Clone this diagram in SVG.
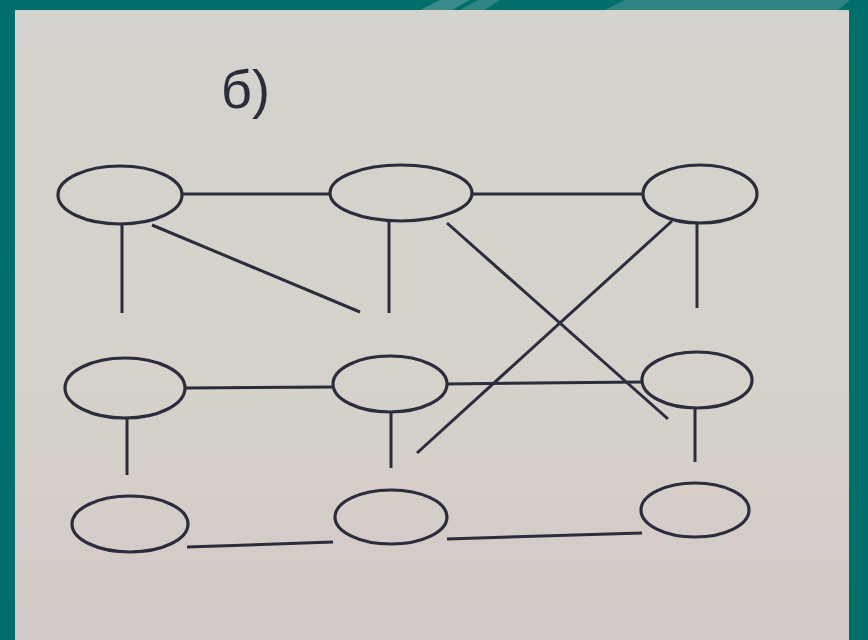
<svg xmlns="http://www.w3.org/2000/svg" width="868" height="640" viewBox="0 0 868 640">
<style>
.node{fill:none;stroke:#2b2d3c;stroke-width:3.2}
.edge{stroke:#2b2d3c;stroke-width:3;stroke-linecap:butt;fill:none}
.lbl{font-family:"Liberation Sans","DejaVu Sans",sans-serif;font-size:54px;fill:#2b2d3c}
</style>
<defs>
<linearGradient id="bg" x1="0" y1="0" x2="0" y2="1">
<stop offset="0" stop-color="#d5d3cd"/>
<stop offset="0.6" stop-color="#d6d1cb"/>
<stop offset="1" stop-color="#d3c9c6"/>
</linearGradient>
</defs>
<rect x="0" y="0" width="868" height="640" fill="#006f6b"/>
<polygon points="420,10 440,0 470,0 452,10" fill="#3a8c88"/>
<polygon points="460,10 478,0 500,0 484,10" fill="#2f8581"/>
<polygon points="605,10 625,0 850,0 838,10" fill="#2e8480"/>
<rect x="15" y="10" width="834" height="630" fill="url(#bg)"/>
<text class="lbl" x="221" y="108">б)</text>
<g id="connectors">
<line class="edge" x1="182" y1="194" x2="329" y2="194"/>
<line class="edge" x1="472" y1="194" x2="643" y2="194"/>
<line class="edge" x1="122" y1="224" x2="122" y2="313"/>
<line class="edge" x1="152" y1="225" x2="360" y2="312"/>
<line class="edge" x1="389" y1="221" x2="389" y2="313"/>
<line class="edge" x1="447" y1="223" x2="668" y2="419"/>
<line class="edge" x1="672" y1="221" x2="417" y2="453"/>
<line class="edge" x1="697" y1="222" x2="697" y2="308"/>
<line class="edge" x1="186" y1="388" x2="333" y2="387"/>
<line class="edge" x1="446" y1="384" x2="642" y2="382"/>
<line class="edge" x1="127" y1="418" x2="127" y2="475"/>
<line class="edge" x1="391" y1="412" x2="391" y2="468"/>
<line class="edge" x1="695" y1="408" x2="695" y2="462"/>
<line class="edge" x1="187" y1="547" x2="333" y2="542"/>
<line class="edge" x1="447" y1="539" x2="642" y2="533"/>
</g>
<g id="n1"><ellipse class="node" cx="120" cy="195" rx="62" ry="29"/></g>
<g id="n2"><ellipse class="node" cx="401" cy="193" rx="71" ry="28"/></g>
<g id="n3"><ellipse class="node" cx="700" cy="194" rx="57" ry="29"/></g>
<g id="n4"><ellipse class="node" cx="125" cy="388" rx="60" ry="30"/></g>
<g id="n5"><ellipse class="node" cx="390" cy="384" rx="57" ry="28"/></g>
<g id="n6"><ellipse class="node" cx="697" cy="380" rx="55" ry="28"/></g>
<g id="n7"><ellipse class="node" cx="130" cy="524" rx="58" ry="28"/></g>
<g id="n8"><ellipse class="node" cx="391" cy="517" rx="56" ry="27"/></g>
<g id="n9"><ellipse class="node" cx="695" cy="510" rx="54" ry="27"/></g>
</svg>
